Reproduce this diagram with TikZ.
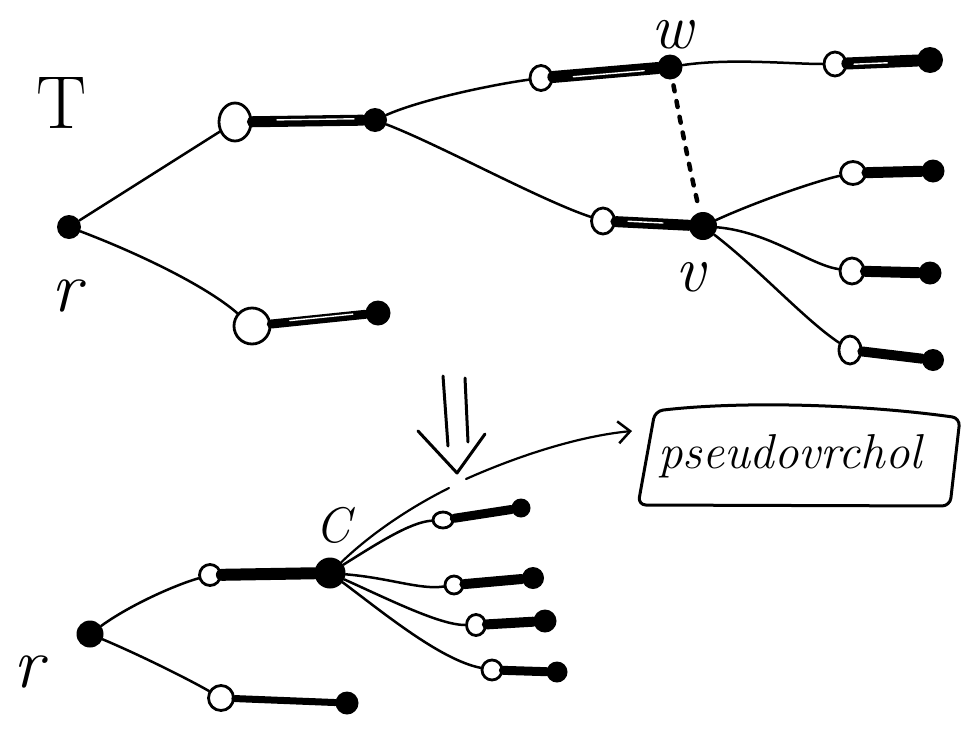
\documentclass[tikz,border=0pt]{standalone}
\usetikzlibrary{arrows.meta,shapes.geometric,calc}
\begin{document}
\begin{tikzpicture}[x=1pt,y=-1pt,line cap=round,line join=round,
  opendot/.style={ellipse,draw,fill=white,line width=2.8pt,inner sep=0pt,minimum width=#1,minimum height=#1},
  blackdot/.style={circle,fill=black,inner sep=0pt,minimum size=#1},
  twig/.style={line width=2.5pt},
  heavy/.style={line width=#1},
  heavy/.default=11pt,
  streak/.style={white,line width=1.4pt},
  lbl/.style={inner sep=0pt,font=\fontsize{#1}{#1}\selectfont},
]
\useasboundingbox (0,0) rectangle (963,731);
\fill[white] (0,0) rectangle (963,731);

% ---------- upper tree T ----------
\node[blackdot=24] (root) at (69,227) {};
\node[opendot=32,minimum height=38] (a) at (235,122) {};
\node[blackdot=24] (b) at (375,120) {};
\node[opendot=36] (c) at (252,326) {};
\node[blackdot=25] (d) at (378,313) {};
\node[opendot=22,minimum height=25] (e) at (541,78) {};
\node[blackdot=25] (w) at (670,67) {};
\node[opendot=22,minimum height=24] (f) at (835,64) {};
\node[blackdot=26] (g) at (930,60) {};
\node[opendot=23,minimum height=26] (h) at (603,221) {};
\node[blackdot=28] (v) at (703,226) {};
\node[opendot=25,minimum height=23] (i) at (853,173) {};
\node[blackdot=23] (j) at (933,171) {};
\node[opendot=24,minimum height=26] (k) at (852,271) {};
\node[blackdot=23] (l) at (930,273) {};
\node[opendot=22,minimum height=28] (m) at (850,350) {};
\node[blackdot=22] (n) at (933,360) {};

\node[lbl=75] (tlabel) at (62,103) {T};
\node[lbl=72] (rlabel) at (66,296) {\itshape r};
\node[lbl=64] (wlabel) at (672,35) {\itshape w};
\node[lbl=66] (vlabel) at (690,277) {\itshape v};

\draw[twig] (root) -- (a);
\draw[twig] (root) .. controls (135,252) and (205,285) .. (c);
\draw[heavy] (a) -- (b);
\draw[streak] ($(a)!0.3!(b)+(0,-1.5)$) -- ($(a)!0.85!(b)+(0,-1.5)$);
\draw[heavy=9pt] (c) -- (d);
\draw[streak] ($(c)!0.3!(d)+(0,-1.5)$) -- ($(c)!0.8!(d)+(0,-1.5)$);
\draw[twig] (b) .. controls (420,100) and (490,85) .. (e);
\draw[twig] (b) .. controls (440,145) and (540,200) .. (h);
\draw[heavy=12pt] (e) -- (w);
\draw[streak] ($(e)!0.25!(w)+(0,1.5)$) -- ($(e)!0.8!(w)+(0,1.5)$);
\draw[twig] (w) .. controls (730,58) and (790,64) .. (f);
\draw[heavy=12pt] (f) -- (g);
\draw[streak] ($(f)!0.2!(g)+(0,1)$) -- ($(f)!0.55!(g)+(0,1)$);
\draw[heavy=11pt] (h) -- (v);
\draw[streak] ($(h)!0.25!(v)+(0,-1)$) -- ($(h)!0.6!(v)+(0,-1)$);
\draw[twig] (v) .. controls (760,200) and (820,180) .. (i);
\draw[heavy] (i) -- (j);
\draw[twig] (v) .. controls (770,232) and (810,265) .. (k);
\draw[heavy] (k) -- (l);
\draw[twig] (v) .. controls (760,270) and (805,320) .. (m);
\draw[heavy=10pt] (m) -- (n);
\draw[line width=4.5pt,dash pattern=on 6pt off 10pt,shorten <=6pt,shorten >=8pt]
  (w) .. controls (680,120) and (690,170) .. (v);

% ---------- double arrow ----------
\coordinate (dl1) at (443,376); \coordinate (dl2) at (448,446);
\coordinate (dr1) at (465,378); \coordinate (dr2) at (468,442);
\coordinate (hl) at (418,431); \coordinate (ht) at (457,473); \coordinate (hr) at (485,434);
\draw[line width=3pt] (dl1) -- (dl2);
\draw[line width=3pt] (dr1) -- (dr2);
\draw[line width=3pt] (hl) -- (ht) -- (hr);

% ---------- lower tree ----------
\node[blackdot=27] (r2) at (90,634) {};
\node[opendot=21] (p) at (210,575) {};
\node[blackdot=31] (cc) at (330,573) {};
\node[opendot=25] (q) at (221,698) {};
\node[blackdot=23] (qq) at (347,703) {};
\node[opendot=20,minimum height=16] (s1) at (443,520) {};
\node[blackdot=19] (t1) at (521,508) {};
\node[opendot=18] (s2) at (454,585) {};
\node[blackdot=22] (t2) at (533,578) {};
\node[opendot=19,minimum height=21] (s3) at (476,625) {};
\node[blackdot=23] (t3) at (545,621) {};
\node[opendot=20] (s4) at (492,670) {};
\node[blackdot=21] (t4) at (557,672) {};

\node[lbl=50] (clabel) at (333,525) {\itshape C};
\node[lbl=72] (r2label) at (28,672) {\itshape r};

\draw[twig] (r2) .. controls (130,605) and (175,585) .. (p);
\draw[twig] (r2) .. controls (140,655) and (190,680) .. (q);
\draw[heavy=12pt] (p) -- (cc);
\draw[heavy=7pt] (q) -- (qq);
\draw[twig] (cc) .. controls (375,545) and (410,522) .. (s1);
\draw[heavy=9pt] (s1) -- (t1);
\draw[twig] (cc) .. controls (390,578) and (420,590) .. (s2);
\draw[heavy=10pt] (s2) -- (t2);
\draw[twig] (cc) .. controls (390,600) and (440,625) .. (s3);
\draw[heavy=10pt] (s3) -- (t3);
\draw[twig] (cc) .. controls (380,610) and (440,660) .. (s4);
\draw[heavy=9pt] (s4) -- (t4);

% ---------- pseudovrchol ----------
\node[lbl=49,anchor=base] (box) at (790,468) {\itshape pseudovrchol};
\draw[line width=3pt,rounded corners=8pt]
  (655,411) .. controls (740,401) and (860,404) .. (960,418)
  -- (950,506) -- (638,505) -- cycle;

\coordinate (gapL) at (449,488);
\coordinate (gapR) at (466,479);
\coordinate (tip) at (632,431);
\draw[line width=2.2pt] (cc) .. controls (375,530) and (415,505) .. (gapL);
\draw[line width=2.2pt,-{Straight Barb[length=12pt,width=22pt,line width=2.5pt]}]
  (gapR) .. controls (520,455) and (580,436) .. (tip);
\end{tikzpicture}
\end{document}
